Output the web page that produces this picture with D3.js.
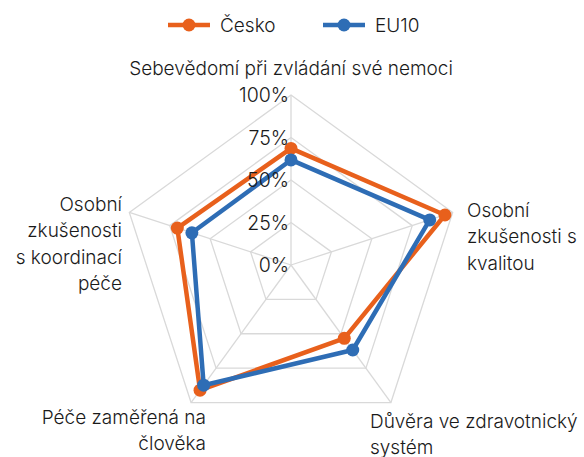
<!DOCTYPE html>
<html>
<head>
<meta charset="utf-8">
<script src="https://cdn.jsdelivr.net/npm/d3@7"></script>
<style>
  body { margin: 0; background: #fff; }
  text { font-family: Inter, "Noto Sans", sans-serif; fill: #1a1a1a; font-weight: 300; }
</style>
</head>
<body>
<div id="plot"></div>
<script>
// data
var axes = [
  ["Sebevědomí při zvládání své nemoci"],
  ["Osobní", "zkušenosti s", "kvalitou"],
  ["Důvěra ve zdravotnický", "systém"],
  ["Péče zaměřená na", "člověka"],
  ["Osobní", "zkušenosti", "s koordinací", "péče"]
];
var seriesNames = ["Česko", "EU10"];
var cesko = [0.686, 0.952, 0.533, 0.91, 0.703];
var eu10 = [0.618, 0.858, 0.618, 0.874, 0.613];
var ticks = [0, 0.25, 0.5, 0.75, 1];
var colors = ["#e8601c", "#2e6db5"];

var width = 584, height = 457;
var cx = 291, cy = 265, R = 170;

var svg = d3.select("#plot").append("svg")
  .attr("width", width)
  .attr("height", height);

var r = d3.scaleLinear().domain([0, 1]).range([0, R]);
var angle = d3.scaleLinear().domain([0, axes.length]).range([0, 2 * Math.PI]);

function pt(i, v) {
  var a = angle(i);
  return [cx + r(v) * Math.sin(a), cy - r(v) * Math.cos(a)];
}

// grid rings
var grid = svg.append("g");
ticks.slice(1).forEach(function(t) {
  grid.append("polygon")
    .attr("points", axes.map(function(d, i) { return pt(i, t).join(","); }).join(" "))
    .attr("fill", "none")
    .attr("stroke", "#d9d9d9")
    .attr("stroke-width", 1.3);
});
axes.forEach(function(d, i) {
  var p = pt(i, 1);
  grid.append("line")
    .attr("x1", cx).attr("y1", cy)
    .attr("x2", p[0]).attr("y2", p[1])
    .attr("stroke", "#d9d9d9")
    .attr("stroke-width", 1.3);
});

// series
var line = d3.line().curve(d3.curveLinearClosed);
[cesko, eu10].forEach(function(vals, s) {
  var pts = vals.map(function(v, i) { return pt(i, v); });
  svg.append("path")
    .attr("d", line(pts))
    .attr("fill", "none")
    .attr("stroke", colors[s])
    .attr("stroke-width", 4.5)
    .attr("stroke-linejoin", "round");
  svg.append("g").selectAll("circle")
    .data(pts)
    .enter().append("circle")
      .attr("cx", function(d) { return d[0]; })
      .attr("cy", function(d) { return d[1]; })
      .attr("r", 6.5)
      .attr("fill", colors[s]);
});

// tick labels
svg.append("g").selectAll("text")
  .data(ticks)
  .enter().append("text")
    .attr("x", cx - 2)
    .attr("y", function(d) { return cy - r(d); })
    .attr("dy", "0.36em")
    .attr("text-anchor", "end")
    .attr("font-size", 19.5)
    .text(function(d) { return d3.format(".0%")(d); });

// axis labels
var labelPos = [
  {x: 291, y: 75, anchor: "middle"},
  {x: 467, y: 217, anchor: "start"},
  {x: 370, y: 428, anchor: "start"},
  {x: 206, y: 424, anchor: "end"},
  {x: 122, y: 211, anchor: "end"}
];
axes.forEach(function(lines, i) {
  var t = svg.append("text")
    .attr("text-anchor", labelPos[i].anchor)
    .attr("font-size", 19);
  lines.forEach(function(l, j) {
    t.append("tspan")
      .attr("x", labelPos[i].x)
      .attr("y", labelPos[i].y + j * 26.3)
      .text(l);
  });
});

// legend
var legendX = [168, 323];
seriesNames.forEach(function(n, s) {
  var g = svg.append("g").attr("transform", "translate(" + legendX[s] + ",25)");
  g.append("line")
    .attr("x1", 0).attr("x2", 42)
    .attr("stroke", colors[s])
    .attr("stroke-width", 4.5);
  g.append("circle")
    .attr("cx", 21).attr("r", 6.5)
    .attr("fill", colors[s]);
  g.append("text")
    .attr("x", 52)
    .attr("dy", "0.36em")
    .attr("font-size", 19)
    .text(n);
});
</script>
</body>
</html>
